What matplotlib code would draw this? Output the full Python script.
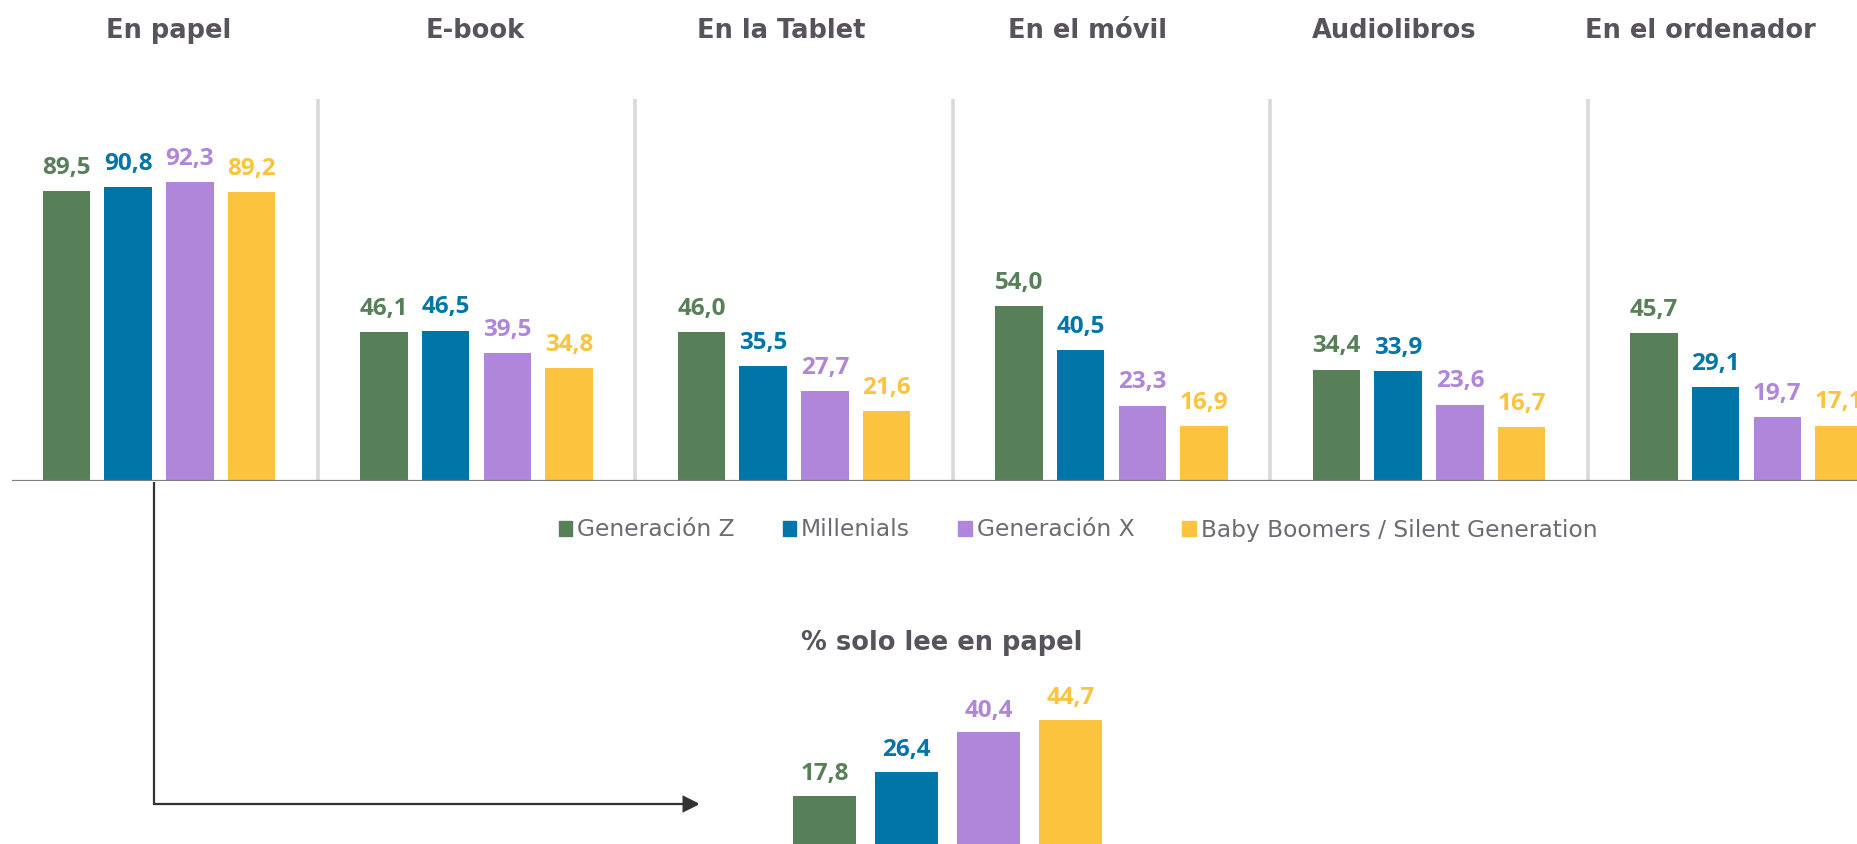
import numpy as np
import matplotlib
matplotlib.use("Agg")
import matplotlib.pyplot as plt
from matplotlib.patches import Patch, FancyArrowPatch
from matplotlib.path import Path

# data
formats = ["En papel", "E-book", "En la Tablet", "En el móvil", "Audiolibros", "En el ordenador"]
generations = ["Generación Z", "Millenials", "Generación X", "Baby Boomers / Silent Generation"]
gen_z = [89.5, 46.1, 46.0, 54.0, 34.4, 45.7]
millenials = [90.8, 46.5, 35.5, 40.5, 33.9, 29.1]
gen_x = [92.3, 39.5, 27.7, 23.3, 23.6, 19.7]
boomers = [89.2, 34.8, 21.6, 16.9, 16.7, 17.1]
solo_papel = [17.8, 26.4, 40.4, 44.7]

colors = ["#588058", "#0076A8", "#B086DB", "#FCC43E"]
title_col = "#57525C"
legend_col = "#6E6A73"

plt.rcParams['font.family'] = ['Open Sans', 'DejaVu Sans']
title_font = ['DejaVu Sans']

W, H = 1857, 844
fig = plt.figure(figsize=(W / 100, H / 100), dpi=100)

# main chart, axes placed in pixels
x0_px, step_px = 159, 317.5
left_px = 12
xmin = (left_px - x0_px) / step_px
xmax = (W - x0_px) / step_px
base_px, ppu = 481, 3.235
ymax = 120
ax = fig.add_axes([left_px / W, (H - base_px) / H, 1 - left_px / W, ymax * ppu / H])
ax.set_xlim(xmin, xmax)
ax.set_ylim(0, ymax)
ax.axis("off")

bar_step = 61.6 / step_px
bar_w = 47.5 / step_px
x = np.arange(len(formats))
series = [gen_z, millenials, gen_x, boomers]
for j, vals in enumerate(series):
    xs = x + (j - 1.5) * bar_step
    ax.bar(xs, vals, width=bar_w, color=colors[j], zorder=2)
    for xi, v in zip(xs, vals):
        ax.annotate(f"{v:.1f}".replace(".", ","), (xi, v), xytext=(0, 12.5),
                    textcoords="offset points", ha="center", va="baseline",
                    fontsize=17.5, fontweight="bold", color=colors[j],
                    annotation_clip=False)

# separators
for k in range(len(formats) - 1):
    ax.plot([k + 0.5, k + 0.5], [0, 118], color="#D9D9D9", lw=2.6, zorder=1,
            solid_capstyle="butt")
ax.axhline(0, color="#7F7A85", lw=1.6, zorder=3)

# group titles
for i, name in enumerate(formats):
    fig.text((169 + 306.3 * i) / W, 1 - 31 / H, name, ha="center", va="center",
             fontsize=18.5, fontweight="bold", color=title_col, family=title_font)

# legend
handles = [Patch(color=c, label=g) for c, g in zip(colors, generations)]
leg = fig.legend(handles=handles, loc="center", bbox_to_anchor=(1078 / W, 1 - 530 / H),
                 ncol=4, frameon=False, handlelength=0.58,
                 handleheight=0.58, handletextpad=0.22, columnspacing=2.05,
                 prop={'family': 'DejaVu Sans', 'size': 16.8})
for t in leg.get_texts():
    t.set_color(legend_col)

# bottom chart
b_ppu = 2.81
b_base = 846
b_step = 82
b_ymax = 60
ax2 = fig.add_axes([(824.5 - b_step / 2) / W, (H - b_base) / H, 4 * b_step / W, b_ymax * b_ppu / H])
ax2.set_xlim(-0.5, 3.5)
ax2.set_ylim(0, b_ymax)
ax2.axis("off")
bx = np.arange(len(solo_papel))
ax2.bar(bx, solo_papel, width=63 / b_step, color=colors)
for xi, v, c in zip(bx, solo_papel, colors):
    ax2.annotate(f"{v:.1f}".replace(".", ","), (xi, v), xytext=(0, 11.5),
                 textcoords="offset points", ha="center", va="baseline",
                 fontsize=17.5, fontweight="bold", color=c)
fig.text(942 / W, 1 - 643 / H, "% solo lee en papel", ha="center", va="center",
         fontsize=18.5, fontweight="bold", color=title_col, family=title_font)

# arrow from the paper group to the bottom chart
arrow_path = Path([(154 / W, 1 - 482 / H), (154 / W, 1 - 804 / H), (700 / W, 1 - 804 / H)],
                  [Path.MOVETO, Path.LINETO, Path.LINETO])
arr = FancyArrowPatch(path=arrow_path, arrowstyle="-|>,head_length=10,head_width=5",
                      color="#333333", lw=1.6, transform=fig.transFigure,
                      joinstyle="miter", capstyle="butt")
fig.add_artist(arr)

fig.savefig("out.png", dpi=100)
